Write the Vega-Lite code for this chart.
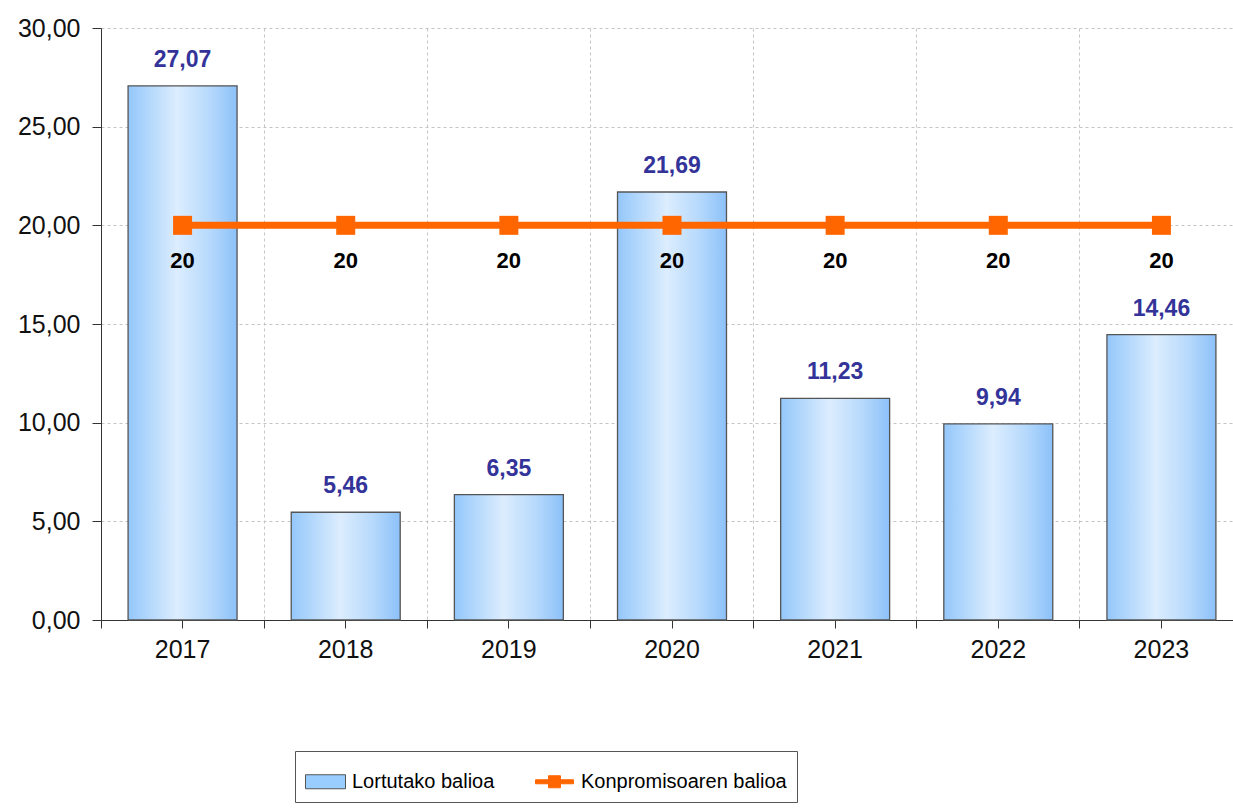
{
  "$schema": "https://vega.github.io/schema/vega-lite/v6.json",
  "width": 1132,
  "height": 592,
  "autosize": "none",
  "padding": {"left": 101, "top": 28, "right": 0, "bottom": 189},
  "background": "white",
  "config": {
    "font": "Liberation Sans",
    "view": {"stroke": null},
    "locale": {"number": {"decimal": ",", "thousands": ".", "grouping": [3], "currency": ["", " €"]}},
    "axis": {"labelFont": "Liberation Sans", "labelFontSize": 25, "labelColor": "#111111", "domainColor": "#333333", "tickColor": "#333333", "gridColor": "#c4c4c4", "gridDash": [3, 3], "title": null}
  },
  "datasets": {
    "main": [
      {"year": "2017", "value": 27.07, "target": 20},
      {"year": "2018", "value": 5.46, "target": 20},
      {"year": "2019", "value": 6.35, "target": 20},
      {"year": "2020", "value": 21.69, "target": 20},
      {"year": "2021", "value": 11.23, "target": 20},
      {"year": "2022", "value": 9.94, "target": 20},
      {"year": "2023", "value": 14.46, "target": 20}
    ],
    "leg": [
      {"s": "Lortutako balioa"},
      {"s": "Konpromisoaren balioa"}
    ]
  },
  "resolve": {"axis": {"x": "independent"}},
  "layer": [
    {
      "data": {"name": "main"},
      "mark": {
        "type": "bar",
        "width": {"band": 0.668},
        "fill": {"gradient": "linear", "x1": 0, "x2": 1, "y1": 0, "y2": 0, "stops": [
          {"offset": 0, "color": "#94c7fb"},
          {"offset": 0.15, "color": "#acd4fc"},
          {"offset": 0.45, "color": "#dcedfe"},
          {"offset": 0.75, "color": "#b6d9fc"},
          {"offset": 1, "color": "#8cc1f9"}
        ]},
        "stroke": "#555555",
        "strokeWidth": 1.3
      },
      "encoding": {
        "x": {"field": "year", "type": "ordinal", "scale": {"type": "band", "paddingInner": 0, "paddingOuter": 0, "range": [0, 1142]},
          "axis": {"orient": "bottom", "bandPosition": 0, "grid": true, "labels": false, "ticks": true, "tickSize": 8, "domain": true}},
        "y": {"field": "value", "type": "quantitative", "scale": {"domain": [0, 30], "nice": false},
          "axis": {"values": [0, 5, 10, 15, 20, 25, 30], "format": ".2f", "grid": true, "tickSize": 9, "labelPadding": 12, "domain": true}}
      }
    },
    {
      "data": {"name": "main"},
      "mark": {"type": "text", "font": "Liberation Sans", "fontWeight": "bold", "fontSize": 23, "color": "#333399", "baseline": "alphabetic", "dy": -19},
      "encoding": {
        "x": {"field": "year", "type": "ordinal",
          "axis": {"orient": "bottom", "bandPosition": 0.5, "grid": false, "labels": true, "ticks": true, "tickSize": 8, "labelPadding": 9, "domain": false, "labelAngle": 0}},
        "y": {"field": "value", "type": "quantitative"},
        "text": {"field": "value", "type": "quantitative", "format": ".2f"}
      }
    },
    {
      "data": {"name": "main"},
      "mark": {"type": "line", "color": "#ff6600", "strokeWidth": 7,
        "point": {"shape": "square", "size": 361, "filled": true, "color": "#ff6600"}},
      "encoding": {
        "x": {"field": "year", "type": "ordinal", "axis": null},
        "y": {"field": "target", "type": "quantitative"}
      }
    },
    {
      "data": {"name": "main"},
      "mark": {"type": "text", "font": "Liberation Sans", "fontWeight": "bold", "fontSize": 22, "color": "#000000", "baseline": "alphabetic", "dy": 43},
      "encoding": {
        "x": {"field": "year", "type": "ordinal", "axis": null},
        "y": {"field": "target", "type": "quantitative"},
        "text": {"field": "target", "type": "quantitative", "format": "d"}
      }
    },
    {
      "mark": {"type": "rule", "color": "#888888", "strokeWidth": 2},
      "encoding": {"y": {"datum": 30, "type": "quantitative"}}
    },
    {
      "data": {"name": "leg"},
      "mark": {"type": "point", "filled": true, "size": 0, "opacity": 1},
      "encoding": {
        "fill": {"field": "s", "type": "nominal",
          "scale": {"domain": ["Lortutako balioa", "Konpromisoaren balioa"], "range": ["#99ccff", "#ff6600"]},
          "legend": {"title": null, "orient": "none", "legendX": 194, "legendY": 723, "direction": "horizontal",
            "strokeColor": "#555555", "padding": 10, "labelFontSize": 20, "labelFont": "Liberation Sans", "labelColor": "#000000", "labelLimit": 500,
            "labelOffset": 6, "columnPadding": 38, "symbolSize": 1600, "symbolOpacity": 1, "symbolStrokeWidth": 1}},
        "shape": {"field": "s", "type": "nominal",
          "scale": {"domain": ["Lortutako balioa", "Konpromisoaren balioa"], "range": ["M-1,-0.35H1V0.35H-1Z", "M-0.95,-0.1H0.95V0.1H-0.95Z M-0.3,-0.3H0.3V0.3H-0.3Z"]}},
        "stroke": {"field": "s", "type": "nominal",
          "scale": {"domain": ["Lortutako balioa", "Konpromisoaren balioa"], "range": ["#555555", "#ff6600"]}}
      }
    }
  ]
}
